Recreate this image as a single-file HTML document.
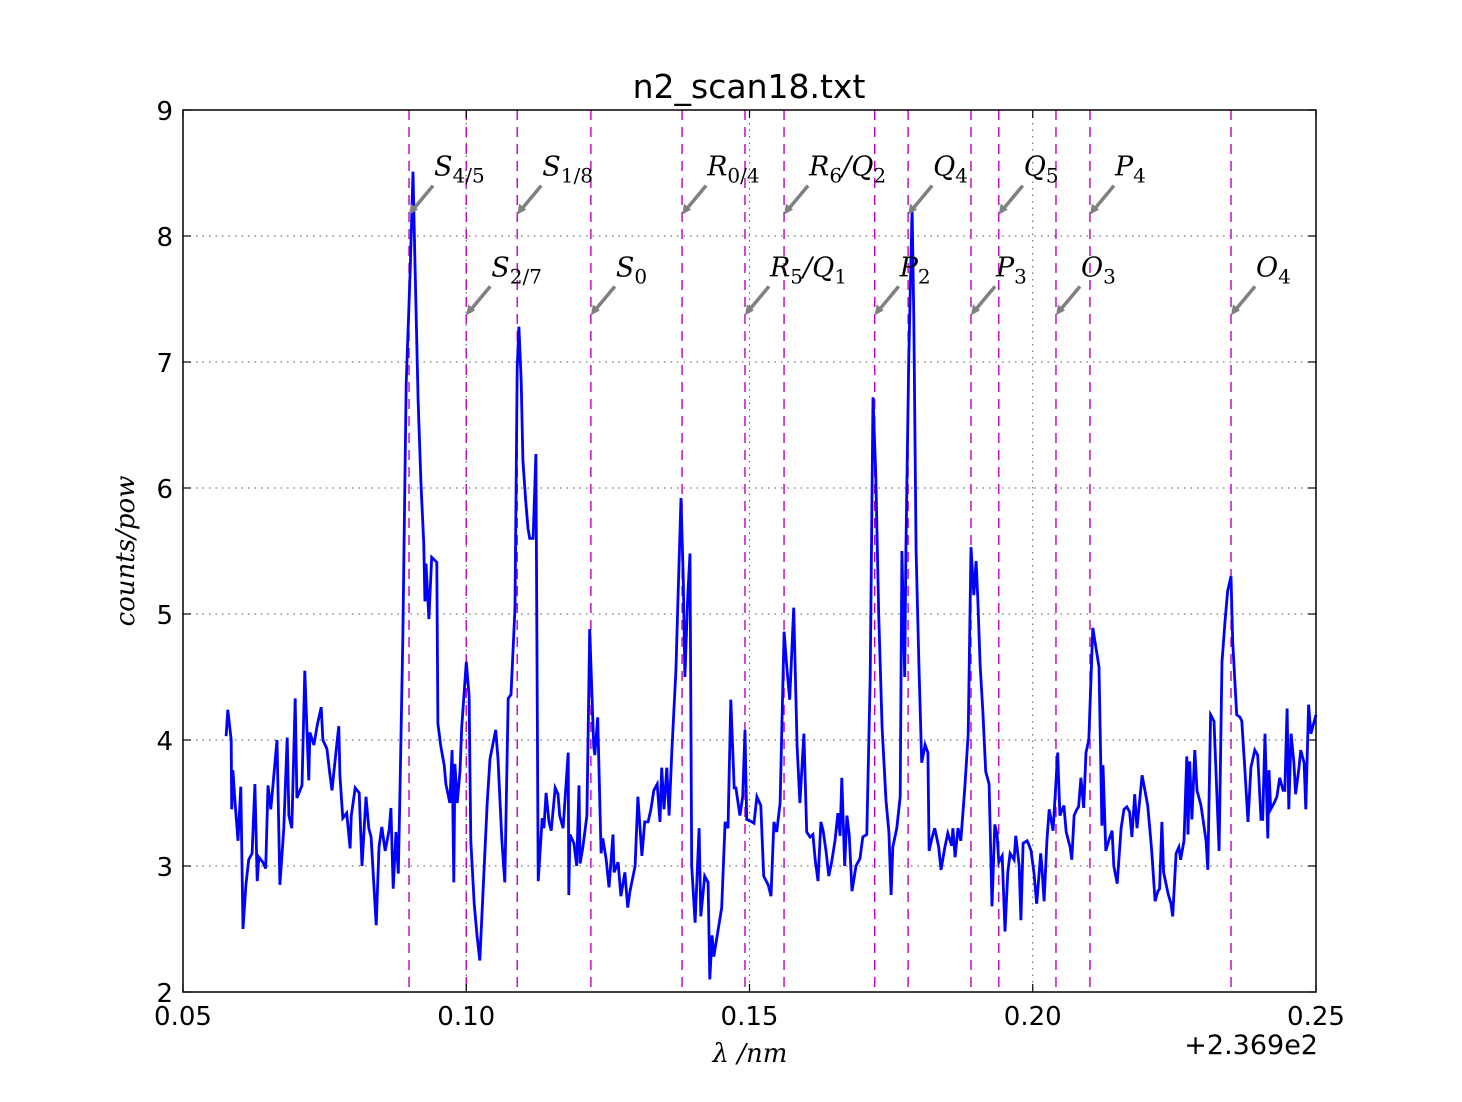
<!DOCTYPE html>
<html><head><meta charset="utf-8"><style>
html,body{margin:0;padding:0;background:#fff;}
svg{display:block;}
</style></head><body>
<svg id="chart" width="1462" height="1102" xmlns="http://www.w3.org/2000/svg" font-family="'DejaVu Sans','Liberation Sans',sans-serif">
<rect x="0" y="0" width="1462" height="1102" fill="#fff"/>
<text x="749" y="98" font-size="33" text-anchor="middle">n2_scan18.txt</text>
<g id="grid"></g>
<g id="lines"></g>
<g id="series"></g>
<g id="annots"></g>
<rect x="183" y="110" width="1133" height="882" fill="none" stroke="#000" stroke-width="1.5"/>
<g id="ticks"></g>
<text x="1318" y="1054" font-size="27" text-anchor="end">+2.369e2</text>
<text x="750" y="1062" font-size="26" text-anchor="middle" font-family="'DejaVu Serif','Liberation Serif',serif" font-style="italic">λ /nm</text>
<text transform="translate(134,551) rotate(-90)" font-size="26" text-anchor="middle" font-family="'DejaVu Serif','Liberation Serif',serif" font-style="italic">counts/pow</text>
</svg>
<script>
const xTicks=[0.05,0.10,0.15,0.20,0.25];
const xTickLabels=["0.05","0.10","0.15","0.20","0.25"];
const yTicks=[2,3,4,5,6,7,8,9];
const yTickLabels=["2","3","4","5","6","7","8","9"];
const lineX=[0.0899,0.1000,0.1090,0.1220,0.1381,0.1492,0.1561,0.1721,0.1780,0.1891,0.1940,0.2041,0.2101,0.2350];
const labelMain=["S","S","S","S","R","R","R","P","Q","P","Q","O","P","O"];
const labelSub=["4/5","2/7","1/8","0","0/4","5","6","2","4","3","5","3","4","4"];
const labelExtraMain=["","","","","","Q","Q","","","","","","",""];
const labelExtraSub=["","","","","","1","2","","","","","","",""];
const labelTipY=[8.17,7.37,8.17,7.37,8.17,7.37,8.17,7.37,8.17,7.37,8.17,7.37,8.17,7.37];
const dataX=[0.0576,0.0579,0.0585,0.0586,0.0588,0.0592,0.0597,0.0602,0.0606,0.0611,0.0616,0.0622,0.0627,0.0631,0.0634,0.0641,0.0646,0.0650,0.0655,0.0661,0.0666,0.0671,0.0678,0.0684,0.0687,0.0692,0.0698,0.0701,0.0710,0.0715,0.0722,0.0724,0.0731,0.0737,0.0744,0.0747,0.0754,0.0759,0.0763,0.0772,0.0775,0.0777,0.0782,0.0789,0.0795,0.0797,0.0804,0.0811,0.0816,0.0823,0.0828,0.0832,0.0841,0.0846,0.0851,0.0857,0.0864,0.0867,0.0871,0.0876,0.0880,0.0883,0.0888,0.0894,0.0901,0.0906,0.0909,0.0915,0.0920,0.0925,0.0927,0.0929,0.0934,0.0939,0.0948,0.0950,0.0955,0.0961,0.0964,0.0971,0.0975,0.0978,0.0980,0.0984,0.0989,0.0992,0.1000,0.1005,0.1008,0.1014,0.1019,0.1024,0.1037,0.1042,0.1052,0.1056,0.1063,0.1068,0.1074,0.1079,0.1086,0.1090,0.1093,0.1097,0.1100,0.1105,0.1109,0.1112,0.1118,0.1123,0.1127,0.1134,0.1137,0.1141,0.1146,0.1150,0.1157,0.1162,0.1165,0.1171,0.1180,0.1181,0.1183,0.1190,0.1195,0.1199,0.1201,0.1206,0.1213,0.1218,0.1222,0.1225,0.1227,0.1232,0.1238,0.1241,0.1247,0.1252,0.1259,0.1261,0.1268,0.1273,0.1280,0.1285,0.1289,0.1298,0.1303,0.1310,0.1315,0.1321,0.1326,0.1331,0.1337,0.1342,0.1345,0.1349,0.1354,0.1358,0.1363,0.1370,0.1374,0.1379,0.1383,0.1386,0.1391,0.1395,0.1398,0.1404,0.1411,0.1414,0.1421,0.1427,0.1430,0.1434,0.1437,0.1451,0.1457,0.1462,0.1467,0.1473,0.1476,0.1483,0.1488,0.1492,0.1495,0.1504,0.1508,0.1513,0.1520,0.1525,0.1533,0.1538,0.1543,0.1548,0.1554,0.1561,0.1566,0.1571,0.1578,0.1584,0.1589,0.1596,0.1601,0.1607,0.1612,0.1616,0.1621,0.1626,0.1630,0.1635,0.1640,0.1645,0.1651,0.1656,0.1660,0.1663,0.1668,0.1672,0.1676,0.1681,0.1688,0.1695,0.1700,0.1707,0.1713,0.1718,0.1723,0.1728,0.1734,0.1741,0.1746,0.1750,0.1753,0.1760,0.1766,0.1769,0.1774,0.1776,0.1781,0.1787,0.1790,0.1794,0.1799,0.1804,0.1810,0.1815,0.1817,0.1822,0.1827,0.1834,0.1838,0.1845,0.1850,0.1857,0.1859,0.1863,0.1868,0.1873,0.1880,0.1886,0.1891,0.1896,0.1900,0.1903,0.1907,0.1912,0.1917,0.1923,0.1928,0.1933,0.1937,0.1940,0.1946,0.1951,0.1956,0.1960,0.1967,0.1970,0.1976,0.1979,0.1983,0.1990,0.1993,0.1997,0.2002,0.2007,0.2014,0.2016,0.2020,0.2025,0.2029,0.2036,0.2044,0.2048,0.2055,0.2059,0.2066,0.2069,0.2073,0.2078,0.2081,0.2085,0.2090,0.2094,0.2099,0.2106,0.2111,0.2117,0.2122,0.2124,0.2129,0.2134,0.2140,0.2143,0.2149,0.2156,0.2161,0.2166,0.2171,0.2175,0.2180,0.2184,0.2193,0.2198,0.2203,0.2207,0.2210,0.2216,0.2221,0.2224,0.2228,0.2231,0.2239,0.2244,0.2247,0.2253,0.2258,0.2261,0.2267,0.2272,0.2274,0.2277,0.2281,0.2286,0.2290,0.2297,0.2306,0.2309,0.2314,0.2320,0.2329,0.2334,0.2339,0.2344,0.2350,0.2353,0.2360,0.2366,0.2369,0.2374,0.2380,0.2385,0.2392,0.2397,0.2403,0.2406,0.2410,0.2415,0.2417,0.2420,0.2426,0.2431,0.2436,0.2442,0.2445,0.2449,0.2452,0.2456,0.2461,0.2464,0.2470,0.2473,0.2479,0.2482,0.2487,0.2491,0.2494,0.2500];
const dataY=[4.03,4.24,4.0,3.45,3.76,3.5,3.2,3.63,2.5,2.85,3.05,3.1,3.65,2.88,3.07,3.03,2.98,3.64,3.45,3.75,4.0,2.85,3.3,4.02,3.4,3.3,4.33,3.54,3.64,4.55,3.68,4.06,3.96,4.12,4.26,4.0,3.93,3.74,3.6,3.99,4.11,3.72,3.38,3.42,3.14,3.4,3.62,3.58,3.0,3.55,3.3,3.23,2.53,3.15,3.31,3.12,3.29,3.46,2.82,3.27,2.94,3.6,4.8,6.83,7.73,8.51,7.88,6.7,6.05,5.55,5.1,5.4,4.96,5.45,5.41,4.13,3.95,3.8,3.65,3.5,3.92,2.87,3.81,3.5,3.75,4.1,4.62,4.35,3.2,2.7,2.45,2.25,3.5,3.85,4.08,3.85,3.2,2.87,4.33,4.36,5.05,6.95,7.28,6.85,6.22,5.9,5.68,5.6,5.6,6.27,2.88,3.38,3.3,3.58,3.35,3.28,3.62,3.57,3.4,3.3,3.9,2.77,3.25,3.18,3.0,3.64,3.02,3.15,3.4,4.88,4.35,3.95,3.88,4.18,3.1,3.22,3.05,2.83,3.25,2.95,3.03,2.76,2.95,2.67,2.8,3.0,3.55,3.08,3.35,3.35,3.45,3.6,3.65,3.35,3.78,3.45,3.78,3.4,3.92,4.55,5.15,5.92,5.3,4.5,5.15,5.48,3.0,2.55,3.3,2.6,2.92,2.87,2.1,2.45,2.28,2.67,3.35,3.3,4.32,3.62,3.62,3.4,3.55,4.08,3.37,3.35,3.34,3.55,3.48,2.92,2.85,2.76,3.35,3.27,3.5,4.86,4.57,4.32,5.05,3.95,3.5,4.05,3.27,3.23,3.25,3.05,2.88,3.35,3.28,3.12,2.92,3.03,3.2,3.42,3.24,3.7,3.0,3.4,3.25,2.8,3.0,3.06,3.23,3.25,4.5,6.72,6.1,5.0,4.1,3.52,3.27,2.77,3.15,3.3,3.55,5.5,4.5,5.5,7.0,8.22,7.35,5.5,4.6,3.82,3.96,3.9,3.12,3.22,3.3,3.15,2.97,3.15,3.26,3.16,3.3,3.07,3.3,3.2,3.62,4.05,5.53,5.15,5.42,5.12,4.6,4.22,3.75,3.65,2.68,3.33,3.25,3.03,3.08,2.48,2.95,3.1,3.05,3.24,3.0,2.57,3.18,3.2,3.17,3.12,2.95,2.7,3.1,3.0,2.72,3.2,3.45,3.28,3.9,3.4,3.48,3.27,3.15,3.05,3.4,3.45,3.47,3.7,3.46,3.9,4.0,4.89,4.75,4.58,3.32,3.8,3.12,3.2,3.28,3.0,2.86,3.3,3.45,3.47,3.43,3.23,3.57,3.3,3.72,3.6,3.48,3.28,3.12,2.72,2.8,2.82,3.35,2.95,2.78,2.7,2.6,3.1,3.15,3.05,3.2,3.87,3.25,3.83,3.37,3.92,3.6,3.48,3.2,2.97,4.2,4.15,3.12,4.62,4.92,5.18,5.3,4.78,4.2,4.18,4.15,3.8,3.35,3.78,3.92,3.88,3.37,3.37,4.05,3.22,3.76,3.45,3.5,3.55,3.7,3.6,3.6,4.25,3.45,4.05,3.82,3.57,3.78,3.92,3.82,3.45,4.28,4.05,4.1,4.2];

const NS="http://www.w3.org/2000/svg";
const L=183,R=1316,T=110,B=992;
const xMin=0.05,xMax=0.25,yMin=2,yMax=9;
function sx(v){return L+(v-xMin)/(xMax-xMin)*(R-L);}
function sy(v){return B-(v-yMin)/(yMax-yMin)*(B-T);}
function mk(tag,attrs,parent){const e=document.createElementNS(NS,tag);for(const k in attrs)e.setAttribute(k,attrs[k]);parent.appendChild(e);return e;}

const grid=document.getElementById('grid');
xTicks.forEach((t,i)=>{
  if(i===0||i===xTicks.length-1)return;
  const g=mk('line',{x1:sx(t),x2:sx(t),y1:T,y2:B,stroke:'#555','stroke-width':1,'stroke-dasharray':'1.5,5'},grid);
  
  
});
yTicks.forEach((t,i)=>{
  if(i===0||i===yTicks.length-1)return;
  const g=mk('line',{x1:L,x2:R,y1:sy(t),y2:sy(t),stroke:'#555','stroke-width':1,'stroke-dasharray':'1.5,5'},grid);
  
  
});

const lines=document.getElementById('lines');
lineX.forEach(v=>{
  const l=mk('line',{x1:sx(v),x2:sx(v),y1:T,y2:B,stroke:'#c000c0','stroke-width':1.4,'stroke-dasharray':'10,7'},lines);
  
  
});

const series=document.getElementById('series');
let d='';
dataX.forEach((v,i)=>{d+=(i?'L':'M')+sx(v).toFixed(1)+','+sy(dataY[i]).toFixed(1);});
const p=mk('path',{d:d,fill:'none',stroke:'#0000ff','stroke-width':2.8,'stroke-linejoin':'miter'},series);



const an=document.getElementById('annots');
lineX.forEach((v,i)=>{
  const tx=sx(v),ty=sy(labelTipY[i]);
  const a=mk('line',{x1:tx+24,y1:ty-29,x2:tx+4,y2:ty-5,stroke:'#808080','stroke-width':3.5},an);
  
  
  const h=mk('polygon',{points:`${tx},${ty} ${tx+2},${ty-11} ${tx+9},${ty-5}`,fill:'#808080'},an);
  
  
  const t=mk('text',{x:tx+25,y:ty-39,'font-size':27,'font-family':"'DejaVu Serif','Liberation Serif',serif",'font-style':'italic'},an);
  
  
  const m=mk('tspan',{},t);m.textContent=labelMain[i];
  const s=mk('tspan',{dy:7,'font-size':20,'font-style':'normal'},t);s.textContent=labelSub[i];
  if(labelExtraMain[i]){
    const sl=mk('tspan',{dy:-7},t);sl.textContent='/';
    const m2=mk('tspan',{},t);m2.textContent=labelExtraMain[i];
    const s2=mk('tspan',{dy:7,'font-size':20,'font-style':'normal'},t);s2.textContent=labelExtraSub[i];
  }
});

const ticks=document.getElementById('ticks');
xTicks.forEach((t,i)=>{
  const x=sx(t);
  const a=mk('line',{x1:x,x2:x,y1:B,y2:B-8,stroke:'#000','stroke-width':1.2},ticks);
  
  
  const b=mk('line',{x1:x,x2:x,y1:T,y2:T+8,stroke:'#000','stroke-width':1.2},ticks);
  
  
  const lb=mk('text',{x:x,y:B+33,'font-size':26,'text-anchor':'middle'},ticks);
  
  
  lb.textContent=xTickLabels[i];
});
yTicks.forEach((t,i)=>{
  const y=sy(t);
  const a=mk('line',{x1:L,x2:L+8,y1:y,y2:y,stroke:'#000','stroke-width':1.2},ticks);
  
  
  const b=mk('line',{x1:R,x2:R-8,y1:y,y2:y,stroke:'#000','stroke-width':1.2},ticks);
  
  
  const lb=mk('text',{x:L-10,y:y+10,'font-size':26,'text-anchor':'end'},ticks);
  
  
  lb.textContent=yTickLabels[i];
});
</script>
</body></html>
